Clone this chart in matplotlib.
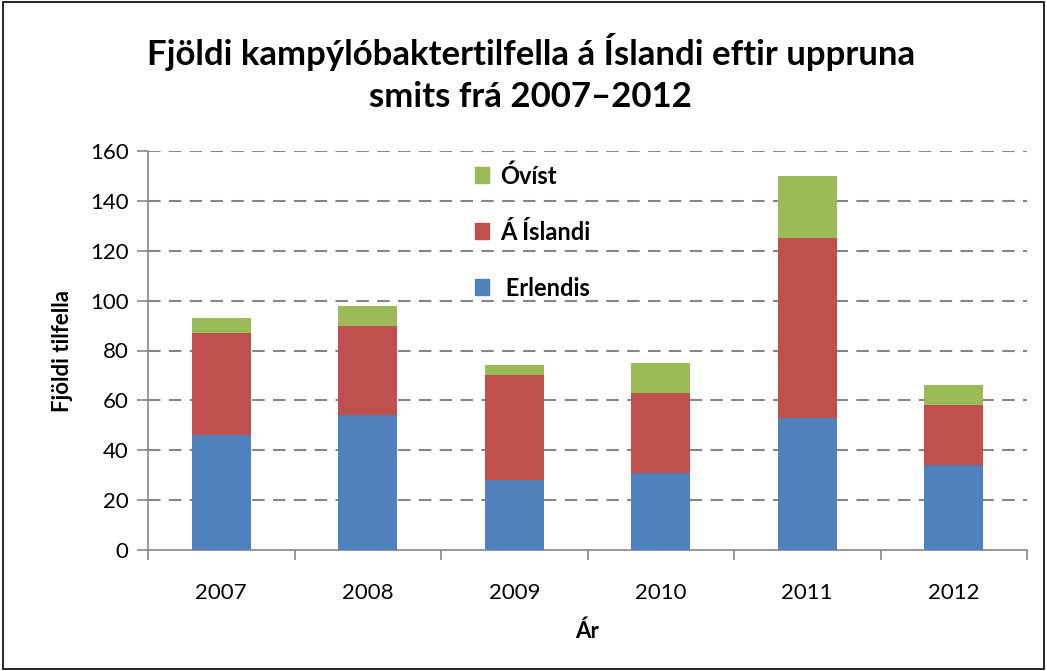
import matplotlib
matplotlib.use("Agg")
import matplotlib.pyplot as plt
from matplotlib.patches import Rectangle, Patch

plt.rcParams["font.family"] = ["Lato", "DejaVu Sans"]

years = ["2007", "2008", "2009", "2010", "2011", "2012"]
erlendis = [46, 54, 28, 31, 53, 34]
a_islandi = [41, 36, 42, 32, 72, 24]
ovist = [6, 8, 4, 12, 25, 8]

C_ERL = "#4F81BD"
C_ISL = "#C0504D"
C_OVI = "#9BBB59"
GRID = "#868686"

fig = plt.figure(figsize=(10.47, 6.71), dpi=100)
ax = fig.add_axes([148 / 1047, 1 - 550 / 671, (1027 - 148) / 1047, (550 - 151) / 671])

x = list(range(len(years)))
w = 0.40
bot2 = [a + b for a, b in zip(erlendis, a_islandi)]
ax.bar(x, erlendis, w, color=C_ERL, zorder=3)
ax.bar(x, a_islandi, w, bottom=erlendis, color=C_ISL, zorder=3)
ax.bar(x, ovist, w, bottom=bot2, color=C_OVI, zorder=3)

ax.set_xlim(-0.5, len(years) - 0.5)
ax.set_ylim(0, 160)
ax.set_yticks(range(0, 161, 20))
ax.set_xticks(x)
ax.set_xticklabels(years)
ax.set_xticks([i - 0.5 for i in range(len(years) + 1)], minor=True)
ax.tick_params(axis="x", which="major", length=0, pad=24, labelsize=16)
ax.tick_params(axis="x", which="minor", length=7, color=GRID, width=1.2)
ax.tick_params(axis="y", length=8, color=GRID, width=1.2, labelsize=16, pad=6)

for v in range(20, 161, 20):
    ax.axhline(v, color=GRID, linestyle=(0, (6, 4)), linewidth=1.5, zorder=1)

for s in ["top", "right"]:
    ax.spines[s].set_visible(False)
for s in ["left", "bottom"]:
    ax.spines[s].set_color(GRID)
    ax.spines[s].set_linewidth(1.2)

ax.set_xlabel("Ár", fontsize=16, weight="bold", labelpad=12)
ax.set_ylabel("Fjöldi tilfella", fontsize=16, weight="bold", labelpad=12)

fig.text(0.507, 1 - 73 / 671, "Fjöldi kampýlóbaktertilfella á Íslandi eftir uppruna\nsmits frá 2007–2012",
         ha="center", va="center", fontsize=25, weight="bold", linespacing=1.35)

handles = [Patch(color=C_OVI), Patch(color=C_ISL), Patch(color=C_ERL)]
labels = ["Óvíst", "Á Íslandi", " Erlendis"]
leg = ax.legend(handles, labels, loc="upper left", bbox_to_anchor=(475 / 1047, 1 - 164 / 671),
                bbox_transform=fig.transFigure, frameon=False, handlelength=0.6, handleheight=0.65,
                handletextpad=0.45, labelspacing=1.4, borderpad=0, borderaxespad=0,
                prop={"weight": "bold", "size": 17})

fig.patches.append(Rectangle((0.003, 0.003), 0.994, 0.994, transform=fig.transFigure,
                             fill=False, edgecolor="black", linewidth=1.2))

fig.savefig("out.png", dpi=100)
